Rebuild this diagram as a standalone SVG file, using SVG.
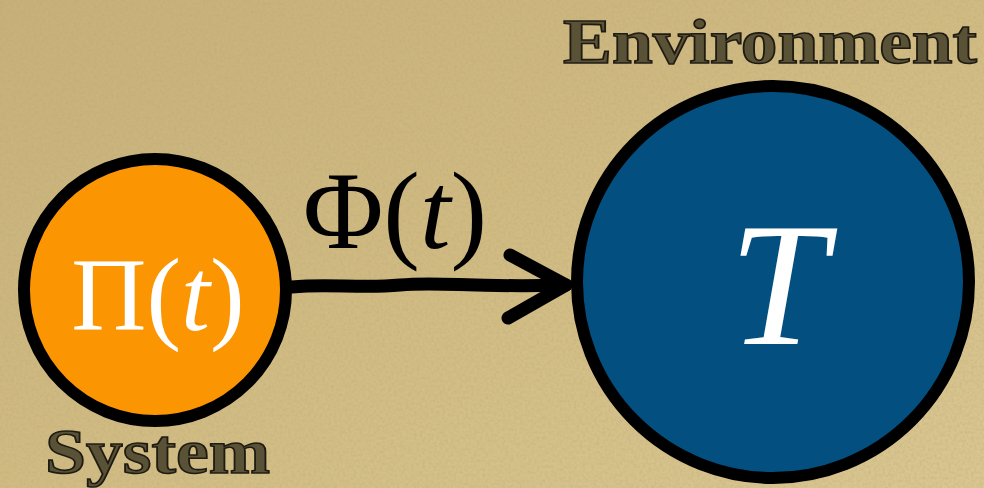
<svg xmlns="http://www.w3.org/2000/svg" width="984" height="488" viewBox="0 0 984 488">
<defs>
<style>
.node{stroke:#000;stroke-width:12}
.lbl{font-family:"Liberation Serif","DejaVu Serif",serif;font-weight:bold;fill:#5a5236;stroke:#1e1b12;stroke-width:1.6}
.math{font-family:"Liberation Serif","DejaVu Serif",serif}
.conn{stroke:#000;stroke-width:13;fill:none;stroke-linecap:round;stroke-linejoin:round}
</style>
<linearGradient id="bg" x1="0" y1="0" x2="1" y2="1">
<stop offset="0" stop-color="#c8b079"/>
<stop offset="0.5" stop-color="#d1bb82"/>
<stop offset="1" stop-color="#dac690"/>
</linearGradient>
<filter id="noise" x="0" y="0" width="100%" height="100%">
<feTurbulence type="fractalNoise" baseFrequency="0.35" numOctaves="2" seed="3"/>
<feColorMatrix type="matrix" values="0 0 0 0 0.45  0 0 0 0 0.38  0 0 0 0 0.2  0 0 0 1.1 -0.4"/>
</filter>
</defs>
<rect width="984" height="488" fill="url(#bg)"/>
<rect width="984" height="488" filter="url(#noise)" opacity="0.6"/>
<g id="connectors">
<path class="conn" d="M292 287 C330 283 360 289 400 285 S470 288 566 285"/>
<path class="conn" d="M510 255 L566 285 L508 318"/>
</g>
<text class="math" x="395" y="248" font-size="110" text-anchor="middle" fill="#000">Φ(<tspan font-style="italic">t</tspan>)</text>
<g id="system">
<circle class="node" cx="155" cy="290" r="131" fill="#fc9502"/>
<text class="math" x="158" y="330" font-size="104" text-anchor="middle" fill="#fff">Π(<tspan font-style="italic">t</tspan>)</text>
<text class="lbl" x="45" y="473" font-size="64" textLength="225" lengthAdjust="spacingAndGlyphs">System</text>
</g>
<g id="environment">
<circle class="node" cx="773" cy="282" r="196" fill="#034f80"/>
<text class="math" x="778" y="344" font-size="176" font-style="italic" text-anchor="middle" fill="#fff">T</text>
<text class="lbl" x="563" y="63" font-size="64" textLength="414" lengthAdjust="spacingAndGlyphs">Environment</text>
</g>
</svg>
